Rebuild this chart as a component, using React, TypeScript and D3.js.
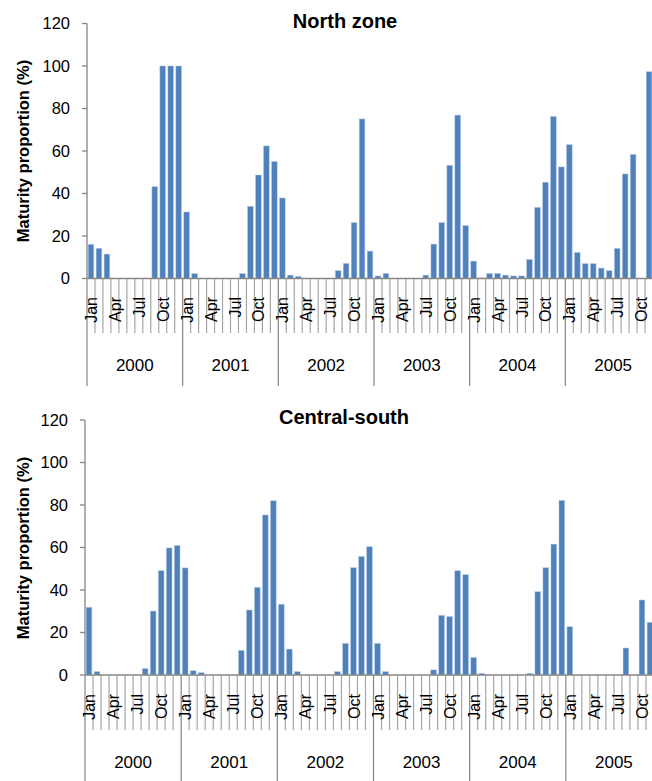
import React from "react";
import * as d3 from "d3";

const YEARS = ["2000", "2001", "2002", "2003", "2004", "2005"];
const MONTHS = ["Jan", "Feb", "Mar", "Apr", "May", "Jun", "Jul", "Aug", "Sep", "Oct", "Nov", "Dec"];
const LABELED_MONTHS = ["Jan", "Apr", "Jul", "Oct"];
const Y_TICKS = [0, 20, 40, 60, 80, 100, 120];

const NORTH_VALUES = [
  16.1, 14.2, 11.5, 0, 0, 0, 0, 0, 43.2, 100, 100, 100,
  31.3, 2.3, 0, 0, 0, 0, 0, 2.3, 34, 48.7, 62.4, 55.1,
  37.9, 1.6, 1.0, 0, 0, 0, 0, 3.7, 7.1, 26.3, 75.1, 12.9,
  1.2, 2.4, 0, 0, 0, 0, 1.6, 16.2, 26.3, 53.3, 76.9, 24.9,
  8.2, 0.3, 2.4, 2.4, 1.6, 1.2, 1.2, 9.0, 33.5, 45.3, 76.3, 52.5,
  63.0, 12.3, 7.0, 7.0, 4.9, 3.7, 14.2, 49.2, 58.4, 0, 97.3, 0,
];

const CENTRAL_SOUTH_VALUES = [
  31.9, 1.6, 0, 0, 0, 0, 0, 3.0, 30.1, 49.1, 59.8, 61.0,
  50.4, 2.0, 1.1, 0, 0, 0, 0, 11.6, 30.6, 41.3, 75.3, 82.0,
  33.3, 12.2, 1.6, 0, 0, 0, 0, 1.6, 14.9, 50.5, 55.8, 60.4,
  14.9, 1.6, 0, 0, 0, 0, 0, 2.4, 28.1, 27.5, 49.1, 47.2,
  8.3, 0.8, 0, 0, 0, 0, 0, 0.8, 39.2, 50.5, 61.6, 82.2,
  22.7, 0, 0, 0, 0, 0, 0, 12.7, 0, 35.3, 24.8, 0,
];

const CATEGORIES = YEARS.flatMap((y) => MONTHS.map((m) => `${y}-${m}`));

const FONT = "'Liberation Sans', Arial, sans-serif";
const AXIS = "#868686";
const BAR = "#4F81BD";

type PanelProps = {
  title: string;
  values: number[];
  x0: number;
  x1: number;
  yTop: number;
  yBottom: number;
  titleX: number;
  titleY: number;
  yLabelCenter: number;
  monthEnd: number;
  tickBottom: number;
  yearLineBottom: number;
  yearLabelY: number;
};

function Panel(p: PanelProps) {
  const x = d3
    .scaleBand<string>()
    .domain(CATEGORIES)
    .range([p.x0, p.x1])
    .paddingInner(0.2857)
    .paddingOuter(0.1429);
  const y = d3.scaleLinear().domain([0, 120]).range([p.yBottom, p.yTop]);
  const step = (p.x1 - p.x0) / CATEGORIES.length;
  const boundaries = d3.range(CATEGORIES.length + 1).map((i) => p.x0 + i * step);

  return (
    <g>
      <text
        x={p.titleX}
        y={p.titleY}
        textAnchor="middle"
        fontFamily={FONT}
        fontWeight="bold"
        fontSize={20}
        fill="#000"
      >
        {p.title}
      </text>
      <text
        transform={`translate(29,${p.yLabelCenter}) rotate(-90)`}
        textAnchor="middle"
        fontFamily={FONT}
        fontWeight="bold"
        fontSize={16.5}
        fill="#000"
      >
        Maturity proportion (%)
      </text>
      {CATEGORIES.map((c, i) => {
        const v = p.values[i];
        if (!v) return null;
        return (
          <rect
            key={c}
            x={x(c)}
            y={y(v)}
            width={x.bandwidth()}
            height={y(0) - y(v)}
            fill={BAR}
            stroke="#B8CCE4"
            strokeWidth={0.5}
          />
        );
      })}
      <line x1={p.x0} x2={p.x0} y1={y(120)} y2={y(0)} stroke={AXIS} strokeWidth={1.3} />
      {Y_TICKS.map((t) => (
        <g key={t}>
          <line x1={p.x0 - 5} x2={p.x0} y1={y(t)} y2={y(t)} stroke={AXIS} strokeWidth={1.3} />
          <text
            x={p.x0 - 17}
            y={y(t)}
            dy="0.36em"
            textAnchor="end"
            fontFamily={FONT}
            fontSize={16.5}
            fill="#000"
          >
            {t}
          </text>
        </g>
      ))}
      {boundaries.map((bx, i) => (
        <line
          key={i}
          x1={bx}
          x2={bx}
          y1={y(0)}
          y2={i % 12 === 0 ? p.yearLineBottom : p.tickBottom}
          stroke={i % 12 === 0 ? AXIS : "#A6A6A6"}
          strokeWidth={1.2}
        />
      ))}
      <line x1={p.x0} x2={p.x1} y1={y(0)} y2={y(0)} stroke={AXIS} strokeWidth={1.5} />
      {CATEGORIES.map((c, i) => {
        const m = MONTHS[i % 12];
        if (!LABELED_MONTHS.includes(m)) return null;
        const cx = (x(c) as number) + x.bandwidth() / 2;
        return (
          <text
            key={c}
            transform={`translate(${cx},${p.monthEnd}) rotate(-90)`}
            dy="0.38em"
            textAnchor="end"
            fontFamily={FONT}
            fontSize={16}
            fill="#000"
          >
            {m}
          </text>
        );
      })}
      {YEARS.map((yr, k) => (
        <text
          key={yr}
          x={p.x0 + (k * 12 + 6) * step}
          y={p.yearLabelY}
          textAnchor="middle"
          fontFamily={FONT}
          fontSize={17}
          fill="#000"
        >
          {yr}
        </text>
      ))}
    </g>
  );
}

export default function App() {
  return (
    <svg
      width={652}
      height={781}
      style={{ position: "absolute", left: 0, top: 0, background: "#fff" }}
    >
      <rect width={652} height={781} fill="#fff" />
      <Panel
        title="North zone"
        values={NORTH_VALUES}
        x0={87}
        x1={661}
        yTop={23.5}
        yBottom={278.5}
        titleX={345}
        titleY={28}
        yLabelCenter={151}
        monthEnd={297}
        tickBottom={333}
        yearLineBottom={386}
        yearLabelY={371}
      />
      <Panel
        title="Central-south"
        values={CENTRAL_SOUTH_VALUES}
        x0={85}
        x1={662}
        yTop={420}
        yBottom={675}
        titleX={344}
        titleY={424}
        yLabelCenter={548}
        monthEnd={694}
        tickBottom={730}
        yearLineBottom={781}
        yearLabelY={768}
      />
    </svg>
  );
}
